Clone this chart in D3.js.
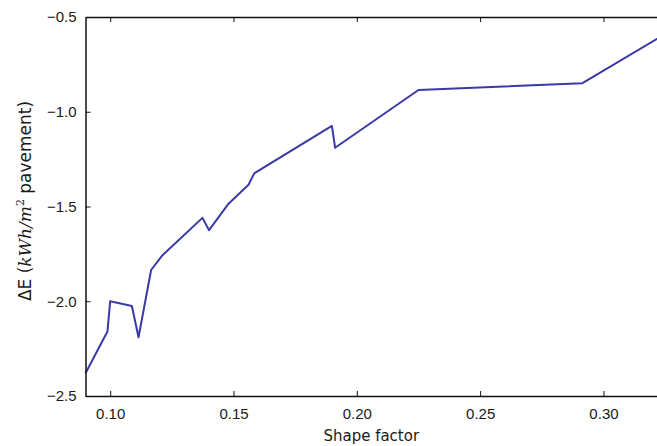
<!DOCTYPE html>
<html>
<head>
<meta charset="utf-8">
<script src="https://cdn.jsdelivr.net/npm/d3@7"></script>
<style>
  body { margin: 0; background: #fff; }
  svg { display: block; }
</style>
</head>
<body>
<svg id="chart"></svg>
<script>
// shape factor vs energy difference
const shapeFactor = [0.0900, 0.0989, 0.1000, 0.1088, 0.1115, 0.1166, 0.1210, 0.1374, 0.1401,
                     0.1480, 0.1561, 0.1584, 0.1899, 0.1912, 0.2250, 0.2913, 0.3250]
const deltaE = [-2.38, -2.16, -2.00, -2.025, -2.19, -1.835, -1.76, -1.56, -1.625,
                -1.485, -1.385, -1.325, -1.075, -1.19, -0.885, -0.85, -0.59]
const xTicks = [0.10, 0.15, 0.20, 0.25, 0.30]
const yTicks = [-2.5, -2.0, -1.5, -1.0, -0.5]

const width = 657
const height = 446
const margin = { left: 85.5, top: 17, bottom: 50 }

const x = d3.scaleLinear().domain([0.09, 0.325]).range([margin.left, margin.left + 0.235 * 2466.5])
const y = d3.scaleLinear().domain([-2.5, -0.5]).range([height - margin.bottom, margin.top])

const svg = d3.select("#chart")
    .attr("width", width)
    .attr("height", height)
    .style("font-family", "DejaVu Sans, sans-serif")

const data = shapeFactor.map((d, i) => ({ x: d, y: deltaE[i] }))

const line = d3.line().x(d => x(d.x)).y(d => y(d.y))

svg.append("path")
    .datum(data)
    .attr("fill", "none")
    .attr("stroke", "#3a3aa6")
    .attr("stroke-width", 2)
    .attr("stroke-linejoin", "round")
    .attr("d", line)

const fmt = d3.format(".2f")
const minus = s => s.replace("-", "\u2212")

// axes, ticks pointing inward on all sides (classic style)
const gBottom = svg.append("g")
    .attr("transform", `translate(0,${y.range()[0]})`)
    .call(d3.axisBottom(x).tickValues(xTicks).tickFormat(fmt).tickSizeInner(-5).tickSizeOuter(0).tickPadding(12))
const gTop = svg.append("g")
    .attr("transform", `translate(0,${y.range()[1]})`)
    .call(d3.axisTop(x).tickValues(xTicks).tickFormat("").tickSizeInner(-5).tickSizeOuter(0))
const gLeft = svg.append("g")
    .attr("transform", `translate(${margin.left},0)`)
    .call(d3.axisLeft(y).tickValues(yTicks).tickFormat(d => minus(d3.format(".1f")(d))).tickSizeInner(-5).tickSizeOuter(0).tickPadding(9))

;[gBottom, gTop, gLeft].forEach(g => {
    g.select(".domain").attr("stroke", "#111").attr("stroke-width", 1.5)
    g.selectAll(".tick line").attr("stroke", "#111").attr("stroke-width", 1)
    g.selectAll(".tick text").attr("fill", "#1a1a1a").style("font-size", "15px")
})

// axis labels
svg.append("text")
    .attr("x", (x(0.09) + width) / 2 + 0)
    .attr("y", 441)
    .attr("text-anchor", "middle")
    .attr("fill", "#1a1a1a")
    .style("font-size", "15px")
    .text("Shape factor")

const ylab = svg.append("text")
    .attr("transform", `translate(31,201) rotate(-90)`)
    .attr("text-anchor", "middle")
    .attr("fill", "#1a1a1a")
    .style("font-size", "17px")
ylab.append("tspan").text("\u0394E (")
ylab.append("tspan").style("font-family", "DejaVu Serif, serif").style("font-style", "italic").text("kWh/m")
ylab.append("tspan").attr("dy", -7).style("font-size", "11px").style("font-family", "DejaVu Serif, serif").text("2")
ylab.append("tspan").attr("dy", 7).text(" pavement)")
</script>
</body>
</html>
